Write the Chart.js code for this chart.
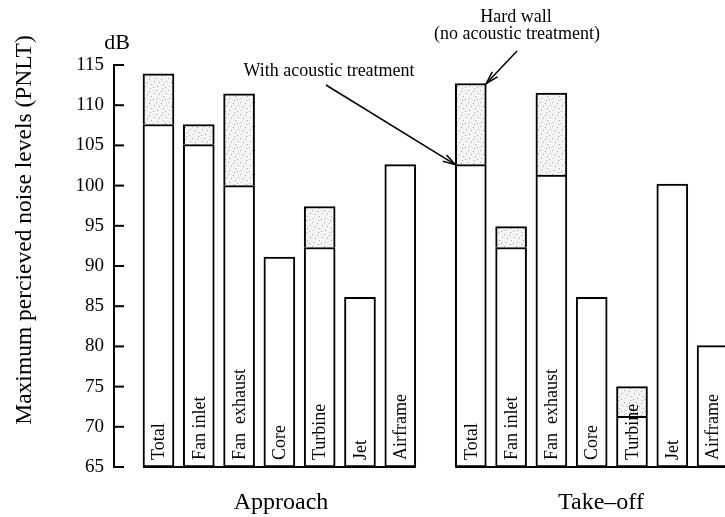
<!DOCTYPE html>
<html>
<head>
<meta charset="utf-8">
<script src="https://cdn.jsdelivr.net/npm/chart.js@4"></script>
<style>
  body { margin: 0; background: #fff; }
  #wrap { width: 725px; height: 517px; position: relative; }
</style>
</head>
<body>
<div id="wrap"><canvas id="noiseChart"></canvas></div>
<script>
// Data (dB, PNLT)
const components = ['Total', 'Fan inlet', 'Fan  exhaust', 'Core', 'Turbine', 'Jet', 'Airframe'];
const groups = ['Approach', 'Take\u2013off'];
const approachTreated = [107.6, 105.1, 100.0, 91.1, 92.3, 86.1, 102.6];
const approachHardWall = [113.9, 107.6, 111.4, null, 97.4, null, null];
const takeoffTreated = [102.6, 92.3, 101.3, 86.1, 71.3, 100.2, 80.1];
const takeoffHardWall = [112.7, 94.9, 111.5, null, 75.0, null, null];
const yMin = 65, yMax = 115, yStep = 5;

const FONT = '"Liberation Serif", "Times New Roman", serif';
const groupOffset = 7.75; // take-off group starts after a gap

// speckled fill for the hard wall part
const makeSpeckle = () => {
    const c = document.createElement('canvas');
    c.width = 12; c.height = 12;
    const g = c.getContext('2d');
    g.fillStyle = '#f4f4f4';
    g.fillRect(0, 0, 12, 12);
    g.fillStyle = '#a8a8a8';
    [[1, 2], [5, 7], [9, 3], [3, 10], [7, 0], [10, 9], [0, 6], [6, 4]].forEach(p => g.fillRect(p[0], p[1], 1, 1));
    return g.createPattern(c, 'repeat');
};

const treatedData = [];
const hardData = [];
[approachTreated, takeoffTreated].forEach((vals, gi) => {
    vals.forEach((v, i) => treatedData.push({ x: i + gi * groupOffset, y: [yMin, v] }));
});
[[approachTreated, approachHardWall], [takeoffTreated, takeoffHardWall]].forEach((pair, gi) => {
    pair[1].forEach((h, i) => {
        if (h !== null) hardData.push({ x: i + gi * groupOffset, y: [pair[0][i], h] });
    });
});
const groupCenters = [3.04, 10.98];

const arrow = (ctx, x1, y1, x2, y2) => {
    ctx.beginPath();
    ctx.moveTo(x1, y1);
    ctx.lineTo(x2, y2);
    ctx.stroke();
    const a = Math.atan2(y2 - y1, x2 - x1);
    const len = 13, spread = 0.28;
    ctx.beginPath();
    ctx.moveTo(x2 - len * Math.cos(a - spread), y2 - len * Math.sin(a - spread));
    ctx.lineTo(x2, y2);
    ctx.lineTo(x2 - len * Math.cos(a + spread), y2 - len * Math.sin(a + spread));
    ctx.stroke();
};

const decorations = {
    id: 'decorations',
    afterDatasetsDraw(chart) {
        const ctx = chart.ctx;
        const y = chart.scales.y;
        const meta = chart.getDatasetMeta(0);
        const base = y.getPixelForValue(yMin);
        ctx.save();
        ctx.fillStyle = '#000';
        ctx.strokeStyle = '#000';

        // bar names, rotated, at the bottom of each bar
        ctx.font = '18px ' + FONT;
        ctx.textAlign = 'left';
        ctx.textBaseline = 'middle';
        meta.data.forEach((bar, i) => {
            ctx.save();
            ctx.translate(bar.x + 1, base - 7);
            ctx.rotate(-Math.PI / 2);
            ctx.fillText(components[i % components.length], 0, 0);
            ctx.restore();
        });

        // baseline under each group of bars
        ctx.lineWidth = 2;
        [0, components.length].forEach(start => {
            const first = meta.data[start], last = meta.data[start + components.length - 1];
            ctx.beginPath();
            ctx.moveTo(first.x - first.width / 2, base);
            ctx.lineTo(Math.min(last.x + last.width / 2, chart.chartArea.right), base);
            ctx.stroke();
        });
        ctx.restore();
    },
    afterDraw(chart) {
        const ctx = chart.ctx;
        const y = chart.scales.y;
        const area = chart.chartArea;
        ctx.save();
        ctx.fillStyle = '#000';
        ctx.strokeStyle = '#000';

        // inward tick marks
        ctx.lineWidth = 2;
        y.ticks.forEach(t => {
            const py = y.getPixelForValue(t.value);
            ctx.beginPath();
            ctx.moveTo(area.left, py);
            ctx.lineTo(area.left + 10, py);
            ctx.stroke();
        });

        // unit and axis title
        ctx.font = '22px ' + FONT;
        ctx.textAlign = 'center';
        ctx.textBaseline = 'alphabetic';
        ctx.fillText('dB', 117, 49);
        ctx.save();
        ctx.translate(25, 230);
        ctx.rotate(-Math.PI / 2);
        ctx.textBaseline = 'middle';
        ctx.font = '23.5px ' + FONT;
        ctx.fillText('Maximum percieved noise levels (PNLT)', 0, 0);
        ctx.restore();

        // annotations
        const treatedMeta = chart.getDatasetMeta(0).data[components.length];
        const hardMeta = chart.getDatasetMeta(1).data[4];
        ctx.font = '18px ' + FONT;
        ctx.textBaseline = 'middle';
        ctx.fillText('With acoustic treatment', 329, 71);
        ctx.fillText('Hard wall', 516, 17);
        ctx.fillText('(no acoustic treatment)', 517, 34);
        ctx.lineWidth = 1.5;
        arrow(ctx, 326, 85, treatedMeta.x - treatedMeta.width / 2, treatedMeta.y);
        arrow(ctx, 517, 51, hardMeta.x + hardMeta.width / 2, hardMeta.y);
        ctx.restore();
    }
};

new Chart('noiseChart', {
    type: 'bar',
    data: {
        datasets: [{
            label: 'With acoustic treatment',
            data: treatedData,
            backgroundColor: '#ffffff',
            borderColor: '#000',
            borderWidth: 2,
            borderSkipped: false,
            barThickness: 31,
            grouped: false
        }, {
            label: 'Hard wall (no acoustic treatment)',
            data: hardData,
            backgroundColor: makeSpeckle(),
            borderColor: '#000',
            borderWidth: 2,
            borderSkipped: 'bottom',
            barThickness: 31,
            grouped: false
        }]
    },
    options: {
        responsive: true,
        maintainAspectRatio: false,
        animation: false,
        layout: { padding: { top: 65, right: 0, bottom: 0, left: 0 } },
        plugins: {
            legend: { display: false },
            tooltip: { enabled: false }
        },
        scales: {
            x: {
                type: 'linear',
                min: -1.104,
                max: 14.058,
                offset: false,
                grid: { display: false, offset: false },
                border: { display: false },
                afterBuildTicks: scale => { scale.ticks = groupCenters.map(v => ({ value: v })); },
                afterFit: scale => { scale.height = 50; },
                ticks: {
                    autoSkip: false,
                    maxRotation: 0,
                    padding: 13,
                    color: '#000',
                    font: { family: FONT, size: 24 },
                    callback: (v, i) => groups[i]
                }
            },
            y: {
                min: yMin,
                max: yMax,
                grid: { display: false, drawTicks: false },
                border: { display: true, color: '#000', width: 2 },
                afterFit: scale => { scale.width = 114; },
                ticks: {
                    stepSize: yStep,
                    padding: 10,
                    color: '#000',
                    font: { family: FONT, size: 19 }
                }
            }
        }
    },
    plugins: [decorations]
});
</script>
</body>
</html>
